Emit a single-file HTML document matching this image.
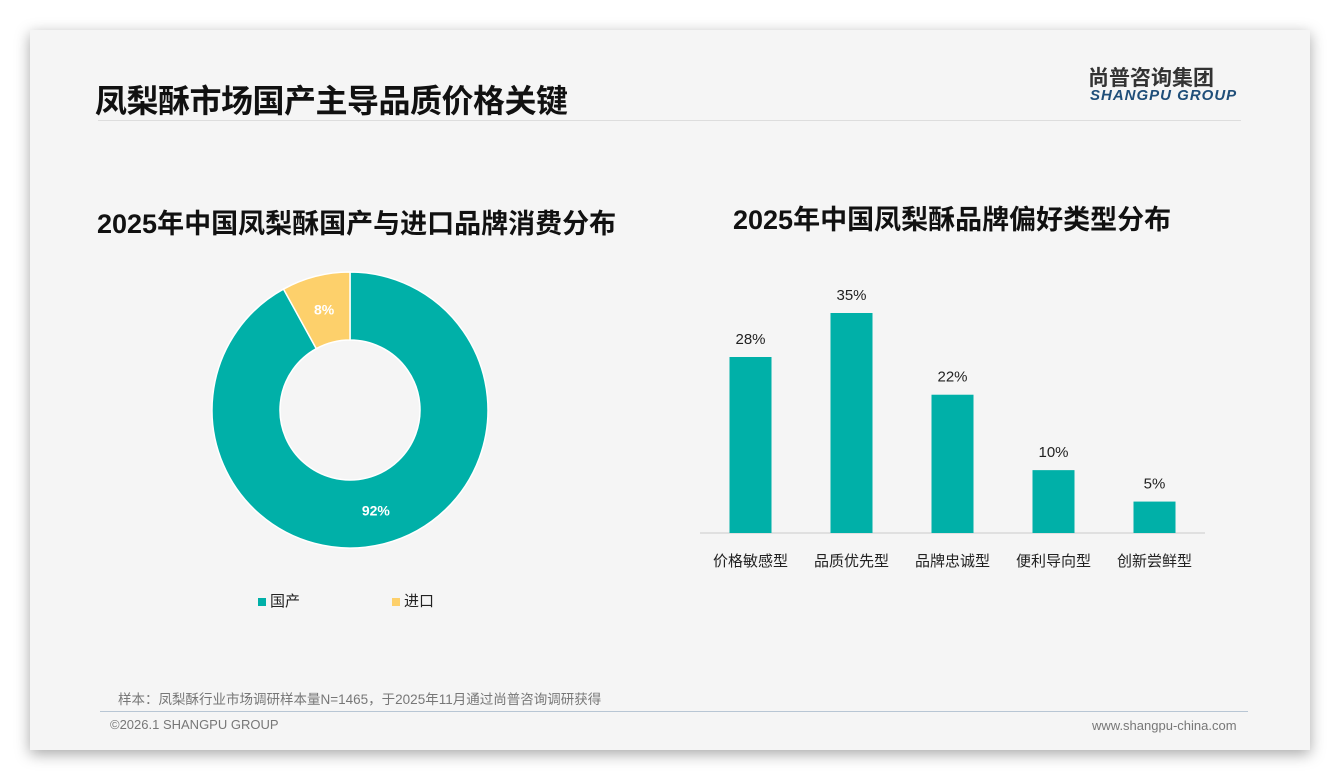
<!DOCTYPE html>
<html><head><meta charset="utf-8"><style>
body{margin:0;width:1340px;height:780px;background:#fff;font-family:"Liberation Sans","Noto Sans CJK SC",sans-serif;position:relative;overflow:hidden}
.card{position:absolute;left:30px;top:30px;width:1280px;height:720px;background:#f5f5f5;box-shadow:0 4px 14px rgba(0,0,0,0.35)}
.abs{position:absolute;white-space:nowrap}
</style></head><body>
<div class="card"></div>
<div class="abs" style="left:95px;top:76px;font-size:32px;font-weight:bold;color:#111;letter-spacing:-0.5px">凤梨酥市场国产主导品质价格关键</div>
<div class="abs" style="left:1088px;top:62px;font-size:21px;font-weight:bold;color:#333">尚普咨询集团</div>
<div class="abs" style="left:1090px;top:87px;font-size:15px;font-style:italic;font-weight:bold;color:#1f4e79;letter-spacing:1px">SHANGPU GROUP</div>
<div class="abs" style="left:98px;top:120px;width:1143px;height:1px;background:#ddd"></div>
<div class="abs" style="left:97px;top:202px;font-size:27px;font-weight:bold;color:#111">2025年中国凤梨酥国产与进口品牌消费分布</div>
<div class="abs" style="left:733px;top:198px;font-size:27px;font-weight:bold;color:#111">2025年中国凤梨酥品牌偏好类型分布</div>
<svg class="abs" style="left:0;top:0" width="1340" height="780" id="svg"></svg>
<div class="abs" style="left:258px;top:590px;font-size:15px;color:#222"><span style="display:inline-block;width:8px;height:8px;background:#00b0a8;margin-right:4px"></span>国产</div>
<div class="abs" style="left:392px;top:590px;font-size:15px;color:#222"><span style="display:inline-block;width:8px;height:8px;background:#fdd06b;margin-right:4px"></span>进口</div>
<div class="abs" style="left:118px;top:688px;font-size:13.5px;color:#777">样本：凤梨酥行业市场调研样本量N=1465，于2025年11月通过尚普咨询调研获得</div>
<div class="abs" style="left:100px;top:711px;width:1148px;height:1px;background:#b8c6d4"></div>
<div class="abs" style="left:110px;top:717px;font-size:13px;color:#777">©2026.1 SHANGPU GROUP</div>
<div class="abs" style="left:1092px;top:718px;font-size:13px;color:#777">www.shangpu-china.com</div>
<script>
const pieLabels=["国产","进口"];
const pieValues=[92,8];
const pieColors=["#00b0a8","#fdd06b"];
const barCats=["价格敏感型","品质优先型","品牌忠诚型","便利导向型","创新尝鲜型"];
const barValues=[28,35,22,10,5];
const svg=document.getElementById('svg');
const NS="http://www.w3.org/2000/svg";
function mk(t,a){const e=document.createElementNS(NS,t);for(const k in a)e.setAttribute(k,a[k]);svg.appendChild(e);return e;}
const cx=350,cy=410,R=138,r=70;
const tot=pieValues.reduce((a,b)=>a+b,0);
let ang=0;
pieValues.forEach((v,i)=>{
 const a0=ang,a1=ang+v/tot*2*Math.PI;ang=a1;
 const p=(a,rad)=>[cx+rad*Math.sin(a),cy-rad*Math.cos(a)];
 const [x0,y0]=p(a0,R),[x1,y1]=p(a1,R),[x2,y2]=p(a1,r),[x3,y3]=p(a0,r);
 const lg=(a1-a0)>Math.PI?1:0;
 const e=mk('path',{d:`M${x0},${y0}A${R},${R} 0 ${lg} 1 ${x1},${y1}L${x2},${y2}A${r},${r} 0 ${lg} 0 ${x3},${y3}Z`,fill:pieColors[i],stroke:'#fff','stroke-width':1.5});
 
 
 const m=(a0+a1)/2,[lx,ly]=p(m,(R+r)/2);
 const t=mk('text',{x:lx,y:ly+5,'text-anchor':'middle','font-size':14,'font-weight':'bold',fill:'#fff'});
 t.textContent=v+'%';
 
 
});
const base=533,x0b=700,x1b=1205,scale=220/35,bw=42;
const step=(x1b-x0b)/barCats.length;
const ax=mk('line',{x1:x0b,y1:base,x2:x1b,y2:base,stroke:'#ccc','stroke-width':1});


barCats.forEach((c,i)=>{
 const xc=x0b+step*(i+0.5),h=barValues[i]*scale;
 const b=mk('rect',{x:xc-bw/2,y:base-h,width:bw,height:h,fill:'#00b0a8'});
 
 
 const t=mk('text',{x:xc,y:base-h-13,'text-anchor':'middle','font-size':15,fill:'#222'});
 t.textContent=barValues[i]+'%';
 
 
 const l=mk('text',{x:xc,y:566,'text-anchor':'middle','font-size':15,fill:'#222'});
 l.textContent=c;
 
 
});
</script>
</body></html>
